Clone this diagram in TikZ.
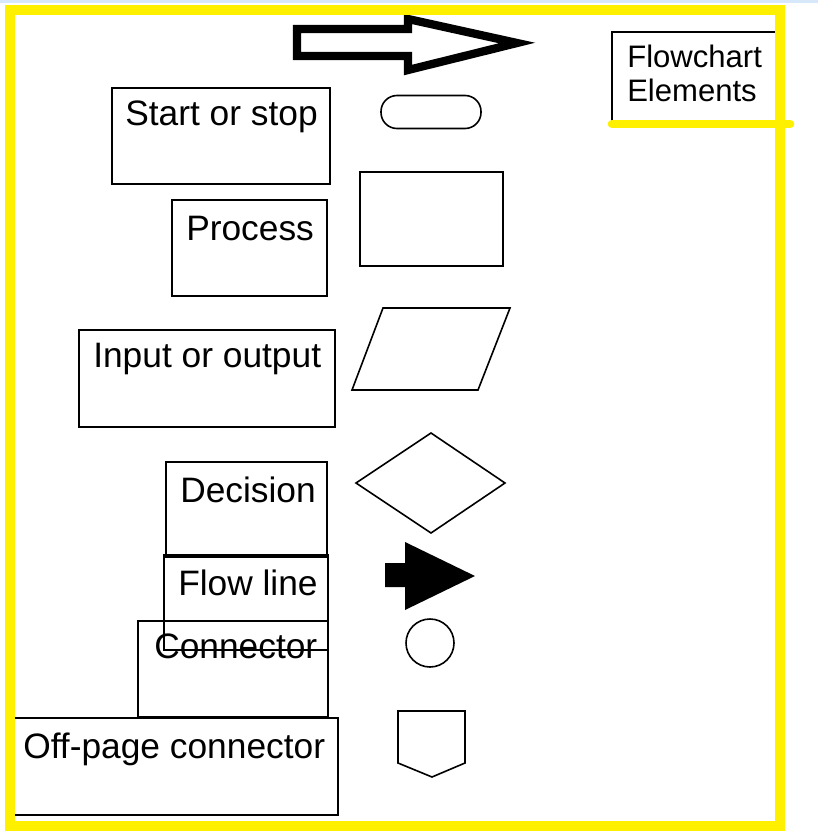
\documentclass[tikz,border=0pt]{standalone}
\usepackage{fontspec}
\setmainfont{Liberation Sans}
\definecolor{ylw}{RGB}{255,240,0}
\definecolor{ltblue}{RGB}{215,232,250}
\begin{document}
\begin{tikzpicture}[x=0.75pt,y=-0.75pt,
  thin box/.style={draw=black,line width=1.3pt},
  shape line/.style={draw=black,line width=1.2pt},
  label text/.style={inner sep=0pt,anchor=base west,font=\fontsize{26.5}{30}\selectfont},
  title text/.style={inner sep=0pt,anchor=base west,font=\fontsize{23.3}{26}\selectfont}]
\useasboundingbox (0,0) rectangle (818,835);
\fill[white] (0,0) rectangle (818,835);
\fill[ltblue] (0,0) rectangle (818,2.5);

% label boxes
\draw[thin box] (112,88) rectangle (330,184);
\node[label text] (t1) at (125,125) {Start or stop};
\draw[thin box] (172,200) rectangle (327,296);
\node[label text] (t2) at (186,240) {Process};
\draw[thin box] (79,330) rectangle (335,427);
\node[label text] (t3) at (93,367) {Input or output};
\draw[thin box] (166,462) rectangle (327,557);
\node[label text] (t4) at (180,502) {Decision};
\draw[thin box] (164,555) rectangle (328,650);
\node[label text] (t5) at (178,595) {Flow line};
\draw[thin box] (138,621) rectangle (328,717);
\node[label text] (t6) at (154,658) {Connector};
\draw[thin box] (164,650) -- (328,650);
\draw[thin box] (12,718) rectangle (338,815);
\node[label text] (t7) at (23,758) {Off-page connector};

% symbols
\draw[shape line,rounded corners=12pt] (381,95.5) rectangle (481,128.5);
\draw[shape line] (360,172) rectangle (503,266);
\draw[shape line] (383,308) -- (510,308) -- (478,390) -- (352,390) -- cycle;
\draw[shape line] (356,483) -- (431,433) -- (505,483) -- (431,533) -- cycle;
\fill[black] (385,563) -- (405,563) -- (405,542) -- (475,576) -- (405,610) -- (405,587) -- (385,587) -- cycle;
\draw[shape line] (430,643) circle (24);
\draw[shape line] (398,711) -- (465,711) -- (465,763) -- (432,777) -- (398,763) -- cycle;

% big outline arrow
\draw[line width=6.2pt,line join=miter] (297,29) -- (408,29) -- (408,19) -- (517,43) -- (408,70) -- (408,56) -- (297,56) -- cycle;

% title box
\draw[thin box] (612,124) -- (612,32) -- (780,32);
\node[title text] (t0) at (627,67) {Flowchart};
\node[title text] (t0b) at (627,101) {Elements};

% yellow frame
\draw[ylw,line width=7.5pt] (10,10) rectangle (780,826);
\draw[ylw,line width=6.5pt,line cap=round] (612,124) -- (790,124);
\end{tikzpicture}
\end{document}
